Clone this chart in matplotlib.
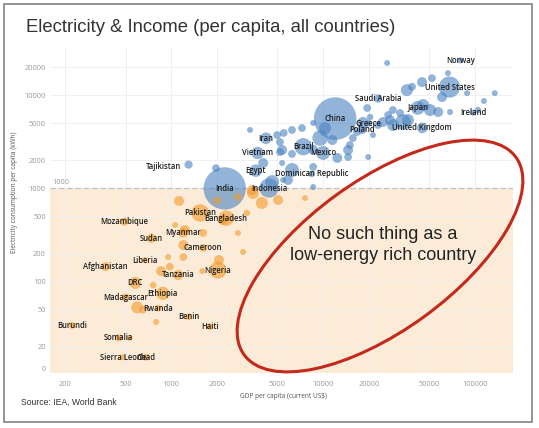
import numpy as np
import matplotlib.pyplot as plt
import matplotlib.transforms as mtransforms
from matplotlib.patches import Ellipse, Rectangle

# labelled countries: GDP per capita (US$), electricity per capita (kWh), population (millions)
countries = ["Norway", "United States", "Saudi Arabia", "Japan", "Ireland", "United Kingdom",
             "Greece", "Poland", "China", "Iran", "Vietnam", "Egypt", "Brazil", "Mexico",
             "Dominican Republic", "Indonesia", "India", "Tajikistan", "Pakistan", "Bangladesh",
             "Mozambique", "Sudan", "Myanmar", "Cameroon", "Liberia", "Afghanistan", "Nigeria",
             "Tanzania", "DRC", "Ethiopia", "Madagascar", "Rwanda", "Benin", "Haiti", "Burundi",
             "Somalia", "Sierra Leone", "Chad"]
gdp = [80000, 68000, 23000, 42000, 97000, 45000,
       20000, 18000, 12000, 4200, 3700, 3600, 7400, 10000,
       8400, 4400, 2250, 1300, 1550, 2300,
       490, 740, 1200, 1620, 670, 370, 2030,
       1110, 580, 880, 500, 820, 1300, 1800, 222,
       450, 480, 680]
elec = [23500, 12200, 9200, 7300, 6500, 4450,
        5000, 4250, 5600, 3450, 2400, 1550, 2800, 2400,
        1430, 1010, 1000, 1800, 545, 480,
        440, 292, 335, 230, 170, 145, 133,
        118, 97, 75, 68, 52, 42, 33, 34,
        25, 15.5, 15.5]
pop = [5, 330, 34, 126, 5, 67,
       10, 38, 1400, 84, 97, 100, 212, 128,
       11, 270, 1380, 30, 220, 165,
       31, 44, 54, 26, 5, 39, 206,
       60, 90, 115, 28, 13, 12, 11, 12,
       16, 8, 16]

# other countries (no label)
other_gdp = [26400, 52100, 44800, 66400, 60700, 88700, 135000, 114500, 104700, 68500,
             50600, 57200, 45500, 35600, 38500, 32100, 28800, 26800, 33600, 27600,
             36200, 28900, 24800, 23000, 19500, 20400, 18300, 16700, 21300, 15700,
             15000, 14600, 14600, 19800, 11500, 10300, 9560, 8600, 7260, 6240,
             4980, 5500, 5200, 3300, 5370, 6240, 12400, 8600, 6240, 5870,
             4610, 8600, 5370, 4030, 1970, 8600, 5200, 5450,
             3450, 3950, 5050, 7600, 2750, 2000, 3400, 1125, 1060, 1230,
             1620, 1200, 1200, 953, 857, 1600, 2060, 2750, 2970, 3150,
             2190, 760, 796, 596, 650, 530, 980]
other_elec = [22100, 15200, 13800, 17200, 9530, 10500, 10500, 8650, 6920, 6590,
              6920, 6590, 7830, 11300, 12300, 6430, 6920, 6120, 5150, 5400,
              5400, 4780, 5150, 4780, 7280, 5820, 5030, 4020, 3730, 3470,
              2920, 2580, 2170, 2170, 3300, 4440, 3470, 5030, 4440, 4230,
              3730, 3930, 3140, 4230, 2580, 2340, 2120, 1700, 1575, 1230,
              1170, 1035, 1870, 1870, 1650, 2600, 2450, 1230,
              893, 697, 750, 789, 810, 740, 960, 733, 405, 358,
              333, 247, 184, 184, 130, 130, 171, 333, 208, 545,
              458, 92, 37, 53, 50, 25, 145]
other_pop = [5, 25, 55, 5, 55, 5, 5, 5, 10, 5,
             90, 55, 90, 90, 25, 25, 25, 25, 170, 55,
             90, 90, 55, 25, 25, 10, 90, 25, 5, 25,
             25, 55, 25, 5, 55, 90, 170, 5, 25, 25,
             25, 25, 25, 5, 55, 25, 55, 25, 130, 55,
             130, 5, 5, 55, 25, 55, 25, 5,
             90, 90, 55, 5, 25, 25, 55, 55, 5, 55,
             25, 55, 25, 5, 55, 5, 55, 5, 5, 10,
             55, 10, 5, 90, 25, 5, 25]

xticks = [200, 500, 1000, 2000, 5000, 10000, 20000, 50000, 100000]
yticks = [11.6, 20, 50, 100, 200, 500, 1000, 2000, 5000, 10000, 20000]
ytick_labels = ["0", "20", "50", "100", "200", "500", "1000", "2000", "5000", "10000", "20000"]

# label nudges in pixels
label_shift = {"Tajikistan": (-25, -2)}

blue = "#4a82c0"
orange = "#f39a2b"

fig = plt.figure(figsize=(5.39, 4.28), dpi=100)
fig.patch.set_facecolor("white")
ax = fig.add_axes([50 / 539, 55 / 428, 463 / 539, 325 / 428])
ax.set_xscale("log")
ax.set_yscale("log")
ax.set_xlim(159, 178000)
ax.set_ylim(10.5, 32000)

ax.axhspan(10.5, 1000, color="#fcebd6", zorder=0, lw=0)
ax.axhline(1000, color="#c4c4c4", ls=(0, (4, 2)), lw=1, zorder=1)
for xt in xticks:
    ax.axvline(xt, color="#efefef", lw=0.7, zorder=0.5)
for yt in yticks[1:]:
    ax.axhline(yt, color="#f1f1f1", lw=0.7, zorder=0.5)

all_x = np.array(gdp + other_gdp, dtype=float)
all_y = np.array(elec + other_elec, dtype=float)
all_p = np.array(pop + other_pop, dtype=float)
order = np.argsort(-all_p)
sizes = 15 + 0.66 * all_p
cols = np.where(all_y >= 1000, blue, orange)
ax.scatter(all_x[order], all_y[order], s=sizes[order], c=cols[order], alpha=0.6,
           edgecolors="none", zorder=2)

for name, x, y in zip(countries, gdp, elec):
    dx, dy = label_shift.get(name, (0, 0))
    ax.annotate(name, (x, y), xytext=(dx * 0.72, dy * 0.72), textcoords="offset points",
                ha="center", va="center", fontsize=5.5, family="Open Sans",
                fontweight="semibold", color="#1c1c1c", zorder=3)

ax.set_xticks(xticks)
ax.set_xticklabels([str(v) for v in xticks])
ax.set_yticks(yticks)
ax.set_yticklabels(ytick_labels)
ax.minorticks_off()
ax.tick_params(length=0, labelsize=5.3, labelcolor="#9a9a9a", pad=3)
for lab in ax.get_xticklabels() + ax.get_yticklabels():
    lab.set_family("Open Sans")
ax.tick_params(axis="x", pad=6)
for sp in ax.spines.values():
    sp.set_visible(False)

trans = mtransforms.blended_transform_factory(ax.transAxes, ax.transData)
ax.text(0.004, 1060, "1000", transform=trans, fontsize=5.3, color="#9a9a9a",
        family="Open Sans", va="bottom", ha="left")

fig.text(26 / 539, 1 - 27 / 428, "Electricity & Income (per capita, all countries)",
         fontsize=13.3, family="Liberation Sans", color="#333333", va="center", ha="left")
fig.text(21 / 539, 1 - 402 / 428, "Source: IEA, World Bank", fontsize=6.2,
         family="Liberation Sans", color="#333333", va="center", ha="left")
fig.text(283 / 539, 1 - 396 / 428, "GDP per capita (current US$)", fontsize=4.7,
         family="Open Sans", color="#555555", va="center", ha="center")
fig.text(15 / 539, 1 - 192 / 428, "Electricity consumption per capita (kWh)", fontsize=4.7,
         family="Open Sans", color="#555555", va="center", ha="center", rotation=90)

# callout
fig.patches.append(Ellipse((3.80, (428 - 256) / 100), 3.36, 1.50, angle=36,
                           transform=fig.dpi_scale_trans, fill=False,
                           edgecolor="#c42a1c", lw=2.2, zorder=5))
fig.text(383 / 539, 1 - 245 / 428, "No such thing as a\nlow-energy rich country",
         fontsize=13, family="Liberation Sans", color="#222222", ha="center",
         va="center", linespacing=1.35)

# frame
fig.patches.append(Rectangle((4 / 539, 1 - 422 / 428), 528 / 539, 418 / 428,
                             transform=fig.transFigure, fill=False,
                             edgecolor="#8c8c8c", lw=1.3))

fig.savefig("out.png", dpi=100)
